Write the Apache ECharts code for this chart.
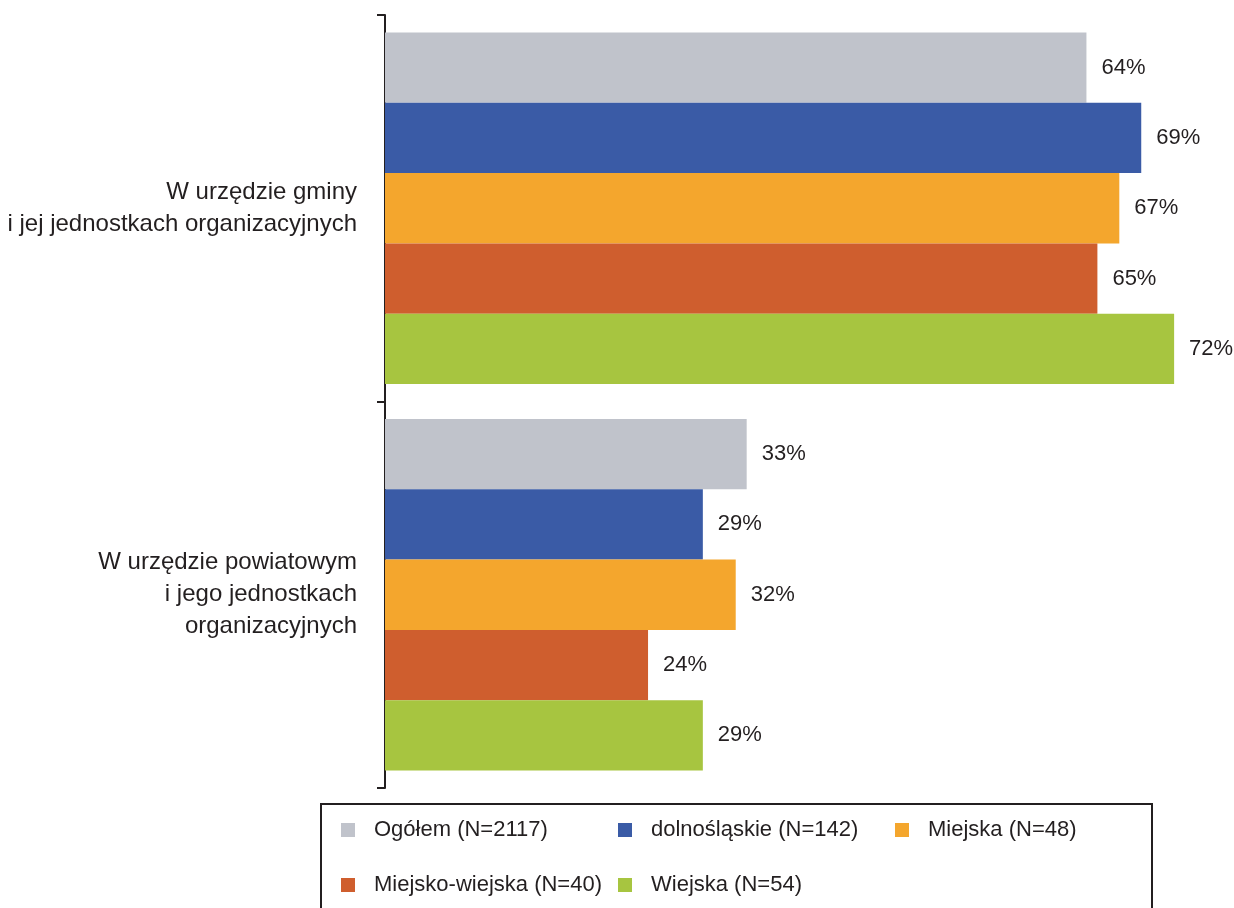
<!DOCTYPE html>
<html lang="pl">
<head>
    <meta charset="UTF-8">
    <title>Urzędy</title>
    <script src="https://cdn.jsdelivr.net/npm/echarts@6/dist/echarts.min.js"></script>
    <style>
        html, body { margin: 0; padding: 0; background: #fff; }
        #chart { width: 1234px; height: 908px; }
    </style>
</head>
<body>
    <div id="chart"></div>
    <script>
        var chart = echarts.init(document.getElementById('chart'));

        // dane
        var kategorie = ['W urzędzie gminy\ni jej jednostkach organizacyjnych',
                         'W urzędzie powiatowym\ni jego jednostkach\norganizacyjnych'];
        var serie = ['Ogółem (N=2117)', 'dolnośląskie (N=142)', 'Miejska (N=48)',
                     'Miejsko-wiejska (N=40)', 'Wiejska (N=54)'];
        var ogolem = [64, 33];
        var dolnoslaskie = [69, 29];
        var miejska = [67, 32];
        var miejskoWiejska = [65, 24];
        var wiejska = [72, 29];

        var kolory = ['#c0c3cb', '#3a5ba6', '#f4a62d', '#cf5e2e', '#a7c540'];
        var wartosci = [ogolem, dolnoslaskie, miejska, miejskoWiejska, wiejska];

        var czcionka = '"Liberation Sans", Arial, Helvetica, sans-serif';
        var tekst = '#231f20';

        // pozycje legendy (kolumny jak w oryginale)
        var legendaPoz = [[341, 819], [618, 819], [895, 819], [341, 874], [618, 874]];

        var series = serie.map(function (nazwa, i) {
            return {
                name: nazwa,
                type: 'bar',
                data: wartosci[i],
                barGap: '0%',
                barCategoryGap: '9%',
                itemStyle: { color: kolory[i] },
                label: {
                    show: true,
                    position: 'right',
                    distance: 15,
                    formatter: '{c}%',
                    color: tekst,
                    fontSize: 22,
                    fontFamily: czcionka
                }
            };
        });

        var legendy = serie.map(function (nazwa, i) {
            return {
                data: [nazwa],
                left: legendaPoz[i][0],
                top: legendaPoz[i][1],
                padding: 0,
                icon: 'rect',
                itemWidth: 14,
                itemHeight: 14,
                selectedMode: false,
                textStyle: {
                    color: tekst,
                    fontSize: 22,
                    fontFamily: czcionka,
                    lineHeight: 22,
                    padding: [0, 0, 0, 14]
                }
            };
        });

        var option = {
            animation: false,
            grid: { left: 385, right: 27, top: 15, bottom: 120, containLabel: false },
            legend: legendy,
            xAxis: {
                type: 'value',
                min: 0,
                max: 75,
                show: false
            },
            yAxis: {
                type: 'category',
                data: kategorie,
                inverse: true,
                axisLine: { show: true, lineStyle: { color: tekst, width: 2 } },
                axisTick: { show: true, inside: false, length: 8, lineStyle: { color: tekst, width: 2 } },
                axisLabel: {
                    color: tekst,
                    fontSize: 24,
                    fontFamily: czcionka,
                    lineHeight: 32,
                    margin: 28,
                    align: 'right'
                }
            },
            graphic: [{
                type: 'rect',
                shape: { x: 321, y: 804, width: 831, height: 130 },
                style: { fill: 'none', stroke: tekst, lineWidth: 2 },
                silent: true
            }],
            series: series
        };

        chart.setOption(option);
    </script>
</body>
</html>
